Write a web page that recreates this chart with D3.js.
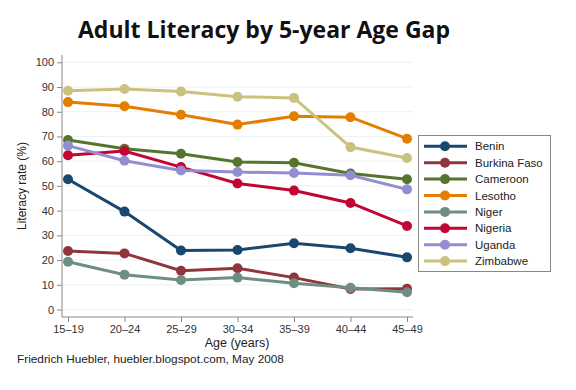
<!DOCTYPE html>
<html>
<head>
<meta charset="utf-8">
<script src="https://cdn.jsdelivr.net/npm/d3@7"></script>
<style>
  body { margin: 0; background: #fff; }
  text { font-family: "Liberation Sans", Arial, sans-serif; }
</style>
</head>
<body>
<div id="chart"></div>
<script>
const ageGroups = ["15–19", "20–24", "25–29", "30–34", "35–39", "40–44", "45–49"];
const countries = ["Benin", "Burkina Faso", "Cameroon", "Lesotho", "Niger", "Nigeria", "Uganda", "Zimbabwe"];
const colors = ["#1a476f", "#90353b", "#55752f", "#e37e00", "#6e8e84", "#c10534", "#938dd2", "#cac27e"];

const benin = [52.7, 39.6, 23.9, 24.1, 26.8, 24.8, 21.1];
const burkinaFaso = [23.7, 22.7, 15.7, 16.7, 12.9, 8.3, 8.4];
const cameroon = [68.6, 65.0, 63.0, 59.7, 59.4, 55.0, 52.7];
const lesotho = [83.9, 82.2, 78.8, 74.8, 78.2, 77.8, 69.1];
const niger = [19.3, 14.1, 11.9, 12.9, 10.6, 8.8, 7.0];
const nigeria = [62.4, 64.1, 57.6, 51.0, 48.1, 43.1, 33.8];
const uganda = [66.3, 60.2, 56.2, 55.6, 55.2, 54.3, 48.6];
const zimbabwe = [88.5, 89.2, 88.2, 86.1, 85.6, 65.7, 61.3];

const seriesValues = [benin, burkinaFaso, cameroon, lesotho, niger, nigeria, uganda, zimbabwe];
const yTicks = d3.range(0, 101, 10);

const width = 576, height = 390;

const svg = d3.select("#chart").append("svg")
    .attr("width", width)
    .attr("height", height);

// title
svg.append("text")
    .attr("x", 264)
    .attr("y", 38)
    .attr("text-anchor", "middle")
    .style("font-family", "'Open Sans', sans-serif")
    .style("font-weight", "bold")
    .style("font-size", "23px")
    .attr("fill", "#111")
    .text("Adult Literacy by 5-year Age Gap");

const x = d3.scalePoint()
    .domain(ageGroups)
    .range([68, 407]);

const y = d3.scaleLinear()
    .domain([0, 100])
    .range([309.5, 62.3]);

const plot = svg.append("g");

// gridlines
plot.append("g")
    .selectAll("line")
    .data(yTicks)
    .join("line")
    .attr("x1", 62)
    .attr("x2", 413)
    .attr("y1", d => y(d))
    .attr("y2", d => y(d))
    .attr("stroke", "#eaf2f3")
    .attr("stroke-width", 1);

// y axis
const yAxis = plot.append("g")
    .attr("transform", "translate(62,0)")
    .call(d3.axisLeft(y).tickValues(yTicks).tickSize(5).tickPadding(3));
yAxis.select(".domain").attr("d", "M0,55V317");

// x axis
const xAxis = plot.append("g")
    .attr("transform", "translate(0,317)")
    .call(d3.axisBottom(x).tickSize(5).tickPadding(3));
xAxis.select(".domain").attr("d", "M62,0H413");

plot.selectAll(".domain, .tick line").attr("stroke", "#888");
plot.selectAll(".tick text")
    .attr("fill", "#333")
    .style("font-size", "11px");

// lines
const line = d3.line()
    .x((d, i) => x(ageGroups[i]))
    .y(d => y(d));

const series = plot.append("g")
    .selectAll("g")
    .data(seriesValues)
    .join("g");

series.append("path")
    .attr("d", d => line(d))
    .attr("fill", "none")
    .attr("stroke", (d, i) => colors[i])
    .attr("stroke-width", 3);

series.selectAll("circle")
    .data((d, i) => d.map(v => ({ v, c: colors[i] })))
    .join("circle")
    .attr("cx", (d, i) => x(ageGroups[i]))
    .attr("cy", d => y(d.v))
    .attr("r", 5)
    .attr("fill", d => d.c);

// axis titles
svg.append("text")
    .attr("transform", "translate(26,186) rotate(-90)")
    .attr("text-anchor", "middle")
    .attr("fill", "#222")
    .style("font-size", "12px")
    .text("Literacy rate (%)");

svg.append("text")
    .attr("x", 237)
    .attr("y", 347)
    .attr("text-anchor", "middle")
    .attr("fill", "#222")
    .style("font-size", "12.5px")
    .text("Age (years)");

svg.append("text")
    .attr("x", 17)
    .attr("y", 363)
    .attr("fill", "#222")
    .style("font-size", "11.8px")
    .text("Friedrich Huebler, huebler.blogspot.com, May 2008");

// legend
const legend = svg.append("g");
legend.append("rect")
    .attr("x", 418.5)
    .attr("y", 135.5)
    .attr("width", 132)
    .attr("height", 136)
    .attr("fill", "#fff")
    .attr("stroke", "#888");

const items = legend.selectAll("g.item")
    .data(countries)
    .join("g")
    .attr("class", "item")
    .attr("transform", (d, i) => `translate(0,${146.3 + i * 16.4})`);

items.append("line")
    .attr("x1", 424)
    .attr("x2", 467)
    .attr("stroke", (d, i) => colors[i])
    .attr("stroke-width", 3);

items.append("circle")
    .attr("cx", 445)
    .attr("r", 5)
    .attr("fill", (d, i) => colors[i]);

items.append("text")
    .attr("x", 475)
    .attr("dy", "0.35em")
    .attr("fill", "#222")
    .style("font-size", "11.5px")
    .text(d => d);
</script>
</body>
</html>
